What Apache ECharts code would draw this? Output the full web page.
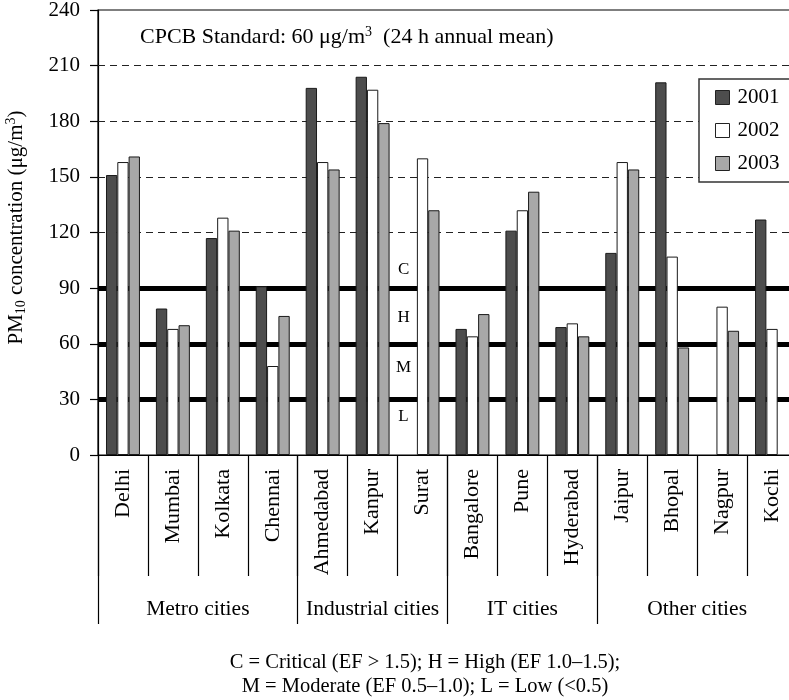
<!DOCTYPE html>
<html>
<head>
<meta charset="utf-8">
<script src="https://cdn.jsdelivr.net/npm/echarts@6/dist/echarts.min.js"></script>
<style>
  html, body { margin: 0; padding: 0; background: #fff; }
  #main { width: 789px; height: 700px; }
</style>
</head>
<body>
<div id="main"></div>
<script>
// PM10 by city, 2001-2003
const cities = ['Delhi', 'Mumbai', 'Kolkata', 'Chennai', 'Ahmedabad', 'Kanpur', 'Surat',
  'Bangalore', 'Pune', 'Hyderabad', 'Jaipur', 'Bhopal', 'Nagpur', 'Kochi'];
const pm2001 = [151, 79, 117, 91, 198, 204, null, 68, 121, 69, 109, 201, null, 127];
const pm2002 = [158, 68, 128, 48, 158, 197, 160, 64, 132, 71, 158, 107, 80, 68];
const pm2003 = [161, 70, 121, 75, 154, 179, 132, 76, 142, 64, 154, 58, 67, null];
const years = ['2001', '2002', '2003'];
const groupNames = ['Metro cities', 'Industrial cities', 'IT cities', 'Other cities'];
const groupSizes = [4, 3, 3, 4];
const yTicks = [0, 30, 60, 90, 120, 150, 180, 210, 240];
const levelLines = [30, 60, 90];        // EF class borders
const dashedLines = [120, 150, 180, 210];
const levelNames = ['L', 'M', 'H', 'C'];

const FONT = '"Liberation Serif", "DejaVu Serif", serif';
const barColors = ['#4d4d4d', '#ffffff', '#a8a8a8'];

// group boundaries (index of first city of each group)
const groupStarts = [];
let acc = 0;
groupSizes.forEach(n => { groupStarts.push(acc); acc += n; });

var chartDom = document.getElementById('main');
var myChart = echarts.init(chartDom);
var option;

const yearData = [pm2001, pm2002, pm2003];

option = {
    animation: false,
    backgroundColor: '#fff',
    textStyle: { fontFamily: FONT, color: '#000' },
    title: {
        text: '{a|CPCB Standard: 60 μg/m}{sup|3}{a|  (24 h annual mean)}',
        left: 140,
        top: 25,
        padding: 0,
        textStyle: {
            rich: {
                a: { fontFamily: FONT, fontSize: 22, fontWeight: 'normal', color: '#000', lineHeight: 24 },
                sup: { fontFamily: FONT, fontSize: 14, fontWeight: 'normal', color: '#000', lineHeight: 10, verticalAlign: 'top' }
            }
        }
    },
    legend: {
        data: years,
        orient: 'vertical',
        left: 699,
        top: 79,
        padding: [8, 80, 8, 16],
        itemWidth: 14,
        itemHeight: 14,
        itemGap: 12,
        icon: 'rect',
        backgroundColor: '#fff',
        borderColor: '#333',
        borderWidth: 1.5,
        borderRadius: 0,
        textStyle: { fontFamily: FONT, fontSize: 21, color: '#000', lineHeight: 21, padding: [0, 0, 0, 3] },
        itemStyle: { borderColor: '#222', borderWidth: 1 }
    },
    grid: {
        left: 98,
        top: 10,
        width: 699,
        height: 445,
        outerBoundsMode: 'none',
        containLabel: false,
        show: true,
        borderColor: '#000',
        borderWidth: 1.2,
        backgroundColor: 'transparent'
    },
    xAxis: [
        {
            type: 'category',
            data: cities,
            position: 'bottom',
            axisLine: { lineStyle: { color: '#000', width: 1.2 } },
            axisTick: { show: true, interval: 0, length: 121, lineStyle: { color: '#000', width: 1.2 } },
            axisLabel: {
                interval: 0,
                rotate: 90,
                margin: 14,
                fontFamily: FONT,
                fontSize: 22,
                color: '#000'
            }
        },
        {
            // longer separators between city groups
            type: 'category',
            data: cities,
            position: 'bottom',
            axisLine: { show: false },
            axisLabel: { show: false },
            axisTick: {
                show: true,
                length: 169,
                interval: function (idx) { return groupStarts.indexOf(idx) >= 0; },
                lineStyle: { color: '#000', width: 1.2 }
            }
        }
    ],
    yAxis: {
        type: 'value',
        min: 0,
        max: 240,
        interval: 30,
        name: '{a|PM}{sub|10}{a| concentration (μg/m}{sup|3}{a|)}',
        nameLocation: 'middle',
        nameGap: 70,
        nameTextStyle: {
            padding: [0, 0, 0, 10],
            rich: {
                a: { fontFamily: FONT, fontSize: 21, color: '#000', lineHeight: 24 },
                sub: { fontFamily: FONT, fontSize: 14, color: '#000', lineHeight: 12, verticalAlign: 'bottom' },
                sup: { fontFamily: FONT, fontSize: 14, color: '#000', lineHeight: 12, verticalAlign: 'top' }
            }
        },
        axisLine: { show: true, lineStyle: { color: '#000', width: 1.2 } },
        axisTick: { show: true, inside: false, length: 8, lineStyle: { color: '#000', width: 1.2 } },
        axisLabel: {
            margin: 18,
            fontFamily: FONT,
            fontSize: 21,
            color: '#000',
            formatter: function (v) { return yTicks.indexOf(v) >= 0 ? String(v) : ''; }
        },
        splitLine: { show: false }
    },
    series: years.map((y, i) => ({
        name: y,
        type: 'bar',
        xAxisIndex: 0,
        barGap: '0%',
        barCategoryGap: '32%',
        z: 3,
        itemStyle: { color: barColors[i], borderColor: '#1a1a1a', borderWidth: 1 },
        data: yearData[i],
        markLine: i === 0 ? {
            silent: true,
            symbol: 'none',
            z: 1,
            label: { show: false },
            data: levelLines.map(v => ({ yAxis: v, lineStyle: { color: '#000', width: 5, type: 'solid' } }))
                .concat(dashedLines.map(v => ({ yAxis: v, lineStyle: { color: '#222', width: 1.2, type: [7, 5] } })))
        } : undefined
    }))
};

option && myChart.setOption(option);

// group labels, EF class letters and footnote placed from the axes
const px = (idx) => myChart.convertToPixel({ xAxisIndex: 0 }, idx);
const py = (v) => myChart.convertToPixel({ yAxisIndex: 0 }, v);
const band = px(1) - px(0);
const barW = band * (1 - 0.32) / 3;
const graphics = [];

groupNames.forEach((g, k) => {
    const a = groupStarts[k];
    const b = a + groupSizes[k] - 1;
    graphics.push({
        type: 'text',
        x: (px(a) + px(b)) / 2,
        y: 609,
        z: 10,
        style: { text: g, fontFamily: FONT, fontSize: 21.5, fill: '#000', align: 'center', verticalAlign: 'middle' }
    });
});

// class letters sit in the gap left of the Surat bars
const surat = cities.indexOf('Surat');
const letterX = px(surat) - barW * 1.5 - 2;
const letterY = [21, 47, 74, 100];
levelNames.forEach((l, k) => {
    graphics.push({
        type: 'text',
        x: letterX,
        y: py(letterY[k]),
        z: 11,
        style: { text: l, fontFamily: FONT, fontSize: 17, fill: '#000', align: 'center', verticalAlign: 'middle' }
    });
});

graphics.push({
    type: 'text',
    x: 425,
    y: 675,
    z: 10,
    style: {
        text: 'C = Critical (EF > 1.5); H = High (EF 1.0–1.5);\nM = Moderate (EF 0.5–1.0); L = Low (<0.5)',
        fontFamily: FONT, fontSize: 20.5, lineHeight: 24, fill: '#000', align: 'center', verticalAlign: 'middle'
    }
});

myChart.setOption({ graphic: graphics });
</script>
</body>
</html>
